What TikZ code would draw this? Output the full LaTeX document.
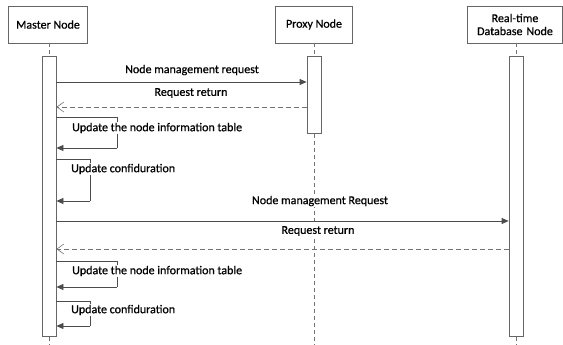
\documentclass[tikz,border=0pt]{standalone}
\usepackage{fontspec}
\setmainfont{Carlito}[FakeBold=0.6]
\usetikzlibrary{arrows.meta}
\begin{document}
\begin{tikzpicture}[x=1pt,y=-1pt,
  every node/.style={font=\fontsize{12}{13.5}\selectfont, text=black},
  actor/.style={draw=black!60, line width=0.8pt, fill=white, minimum height=37pt, align=center, inner sep=0pt},
  bar/.style={draw=black!60, line width=0.8pt, fill=white, minimum width=14pt, inner sep=0pt},
  life/.style={draw=black!55, line width=0.8pt, dash pattern=on 4pt off 3pt},
  msg/.style={draw=black!70, line width=0.8pt, -{Triangle[length=7pt,width=6pt]}},
  ret/.style={draw=black!55, line width=0.8pt, dash pattern=on 5pt off 3pt, -{Straight Barb[length=7pt,width=10pt,line width=0.6pt]}},
  self/.style={draw=black!70, line width=0.8pt},
  lbl/.style={fill=white, inner sep=1pt}
]
\useasboundingbox (0,0) rectangle (563,345);
% actors
\node[actor, minimum width=79pt] (master) at (48,24.5) {Master Node};
\node[actor, minimum width=77pt] (proxy) at (314,24.5) {Proxy Node};
\node[actor, minimum width=95pt, text width=95pt, font=\fontsize{12}{13}\selectfont] (db) at (515,24.5) {Real-time\\Database Node};
% lifelines
\coordinate (mend) at (49,345);
\coordinate (pend) at (314,345);
\coordinate (dend) at (516,345);
\draw[life] (master.south -| mend) -- (mend);
\draw[life] (proxy.south -| pend) -- (pend);
\draw[life] (db.south -| dend) -- (dend);
% activation bars
\node[bar, minimum height=280pt] (mbar) at (49,196) {};
\node[bar, minimum height=77pt] (pbar) at (314,94.5) {};
\node[bar, minimum height=280pt] (dbar) at (516,196) {};
% message y positions
\coordinate (y1) at (0,82);
\coordinate (y2) at (0,107);
\coordinate (s1t) at (117,117);
\coordinate (s1b) at (117,148);
\coordinate (s2t) at (90,159);
\coordinate (s2b) at (90,201);
\coordinate (y5) at (0,221);
\coordinate (y6) at (0,249);
\coordinate (s3t) at (117,261);
\coordinate (s3b) at (117,287);
\coordinate (s4t) at (90,301);
\coordinate (s4b) at (90,326);
% messages to proxy
\draw[msg] (mbar.east |- y1) -- (pbar.west |- y1);
\node[lbl] (l1) at (192,70) {Node management request};
\draw[ret] (pbar.west |- y2) -- (mbar.east |- y2);
\node[lbl] (l2) at (191,93) {Request return};
% self messages 1,2
\draw[self] (mbar.east |- s1t) -- (s1t) -- (s1b);
\draw[msg] (s1b) -- (mbar.east |- s1b);
\node[lbl, anchor=west] (l3) at (71,128) {Update the node information table};
\draw[self] (mbar.east |- s2t) -- (s2t) -- (s2b);
\draw[msg] (s2b) -- (mbar.east |- s2b);
\node[lbl, anchor=west] (l4) at (70,169) {Update confiduration};
% messages to db
\draw[msg] (mbar.east |- y5) -- (dbar.west |- y5);
\node[lbl] (l5) at (320,201) {Node management Request};
\draw[ret] (dbar.west |- y6) -- (mbar.east |- y6);
\node[lbl] (l6) at (318,231) {Request return};
% self messages 3,4
\draw[self] (mbar.east |- s3t) -- (s3t) -- (s3b);
\draw[msg] (s3b) -- (mbar.east |- s3b);
\node[lbl, anchor=west] (l7) at (71,271) {Update the node information table};
\draw[self] (mbar.east |- s4t) -- (s4t) -- (s4b);
\draw[msg] (s4b) -- (mbar.east |- s4b);
\node[lbl, anchor=west] (l8) at (70,310) {Update confiduration};
\end{tikzpicture}
\end{document}
